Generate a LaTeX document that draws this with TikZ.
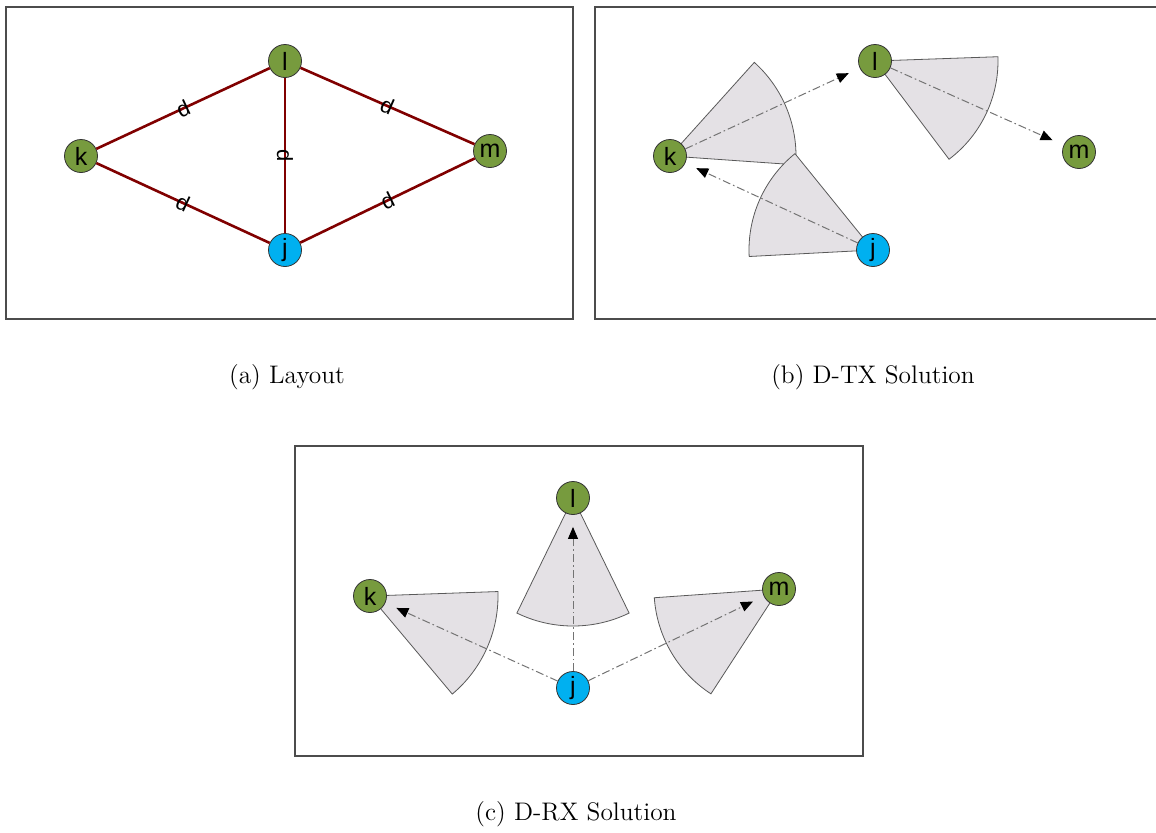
\documentclass[tikz,border=0pt]{standalone}
\usepackage{fontspec}
\newfontfamily\arialfont{Liberation Sans}
\usetikzlibrary{arrows.meta,backgrounds}
\definecolor{nodegreen}{RGB}{119,155,62}
\definecolor{nodeblue}{RGB}{0,176,240}
\definecolor{linkred}{RGB}{128,0,0}
\definecolor{beamgray}{RGB}{228,225,229}
\tikzset{
  station/.style={circle, draw=black!80, line width=0.4pt, fill=nodegreen,
    minimum size=16.5pt, inner sep=0pt, font=\arialfont\fontsize{12.5}{12.5}\selectfont},
  source/.style={station, fill=nodeblue},
  link/.style={linkred, line width=1.3pt},
  elabel/.style={text=black, font=\arialfont\fontsize{11}{11}\selectfont, inner sep=0pt},
  beam/.style={fill=beamgray, draw=black!65, line width=0.4pt},
  flow/.style={draw=black!55, line width=0.5pt,
    dash pattern=on 4pt off 1.5pt on 0.8pt off 1.5pt,
    -{Triangle[black,length=6pt,width=5pt]}, shorten >=6pt},
  panel/.style={draw=black!70, line width=0.6pt},
  caption/.style={font=\fontsize{12.7}{15}\selectfont}
}
% apex, start angle, end angle, radius
\newcommand\beamsector[4]{\filldraw[beam] (#1) -- ++(#2:#4) arc[start angle=#2, end angle=#3, radius=#4] -- cycle;}

\begin{document}
\begin{tikzpicture}[x=0.5pt, y=-0.5pt]
  \useasboundingbox (0,0) rectangle (1156,832);
  % frames
  \draw[panel] (6,7) rectangle (573,319);
  \draw[panel] (1156,7) -- (595,7) -- (595,319) -- (1156,319);
  \draw[panel] (295,446) rectangle (863,756);

  % (a) layout
  \node[station] (ak) at (81,156)  {k};
  \node[station] (al) at (285,61)  {l};
  \node[station] (am) at (490,151) {m};
  \node[source]  (aj) at (285,250) {j};
  \draw[link] (ak) -- node[elabel, sloped] {d} (al);
  \draw[link] (al) -- node[elabel, sloped] {d} (am);
  \draw[link] (ak) -- node[elabel, sloped] {d} (aj);
  \draw[link] (aj) -- node[elabel, sloped] {d} (am);
  \draw[link] (al) -- node[elabel, rotate=-90] {d} (aj);
  \node[caption] (capa) at (287,377) {(a) Layout};

  % (b) D-TX
  \node[station] (bk) at (670,156)  {k};
  \node[station] (bl) at (875,61)   {l};
  \node[station] (bm) at (1079,152) {m};
  \node[source]  (bj) at (873,250)  {j};
  \begin{pgfonlayer}{background}
    \beamsector{bk.center}{-48}{4}{126}
    \beamsector{bl.center}{-2}{53}{123}
    \beamsector{bj.center}{177}{231}{124}
  \end{pgfonlayer}
  \draw[flow] (bk) -- (bl);
  \draw[flow] (bl) -- (bm);
  \draw[flow] (bj) -- (bk);
  \node[caption] (capb) at (873,377) {(b) D-TX Solution};

  % (c) D-RX
  \node[station] (ck) at (370,596) {k};
  \node[station] (cl) at (573,498) {l};
  \node[station] (cm) at (779,589) {m};
  \node[source]  (cj) at (573,688) {j};
  \begin{pgfonlayer}{background}
    \beamsector{ck.center}{-2}{50}{128}
    \beamsector{cl.center}{64}{116}{128}
    \beamsector{cm.center}{123}{176}{125}
  \end{pgfonlayer}
  \draw[flow] (cj) -- (ck);
  \draw[flow] (cj) -- (cl);
  \draw[flow] (cj) -- (cm);
  \node[caption] (capc) at (576,814) {(c) D-RX Solution};
\end{tikzpicture}
\end{document}
